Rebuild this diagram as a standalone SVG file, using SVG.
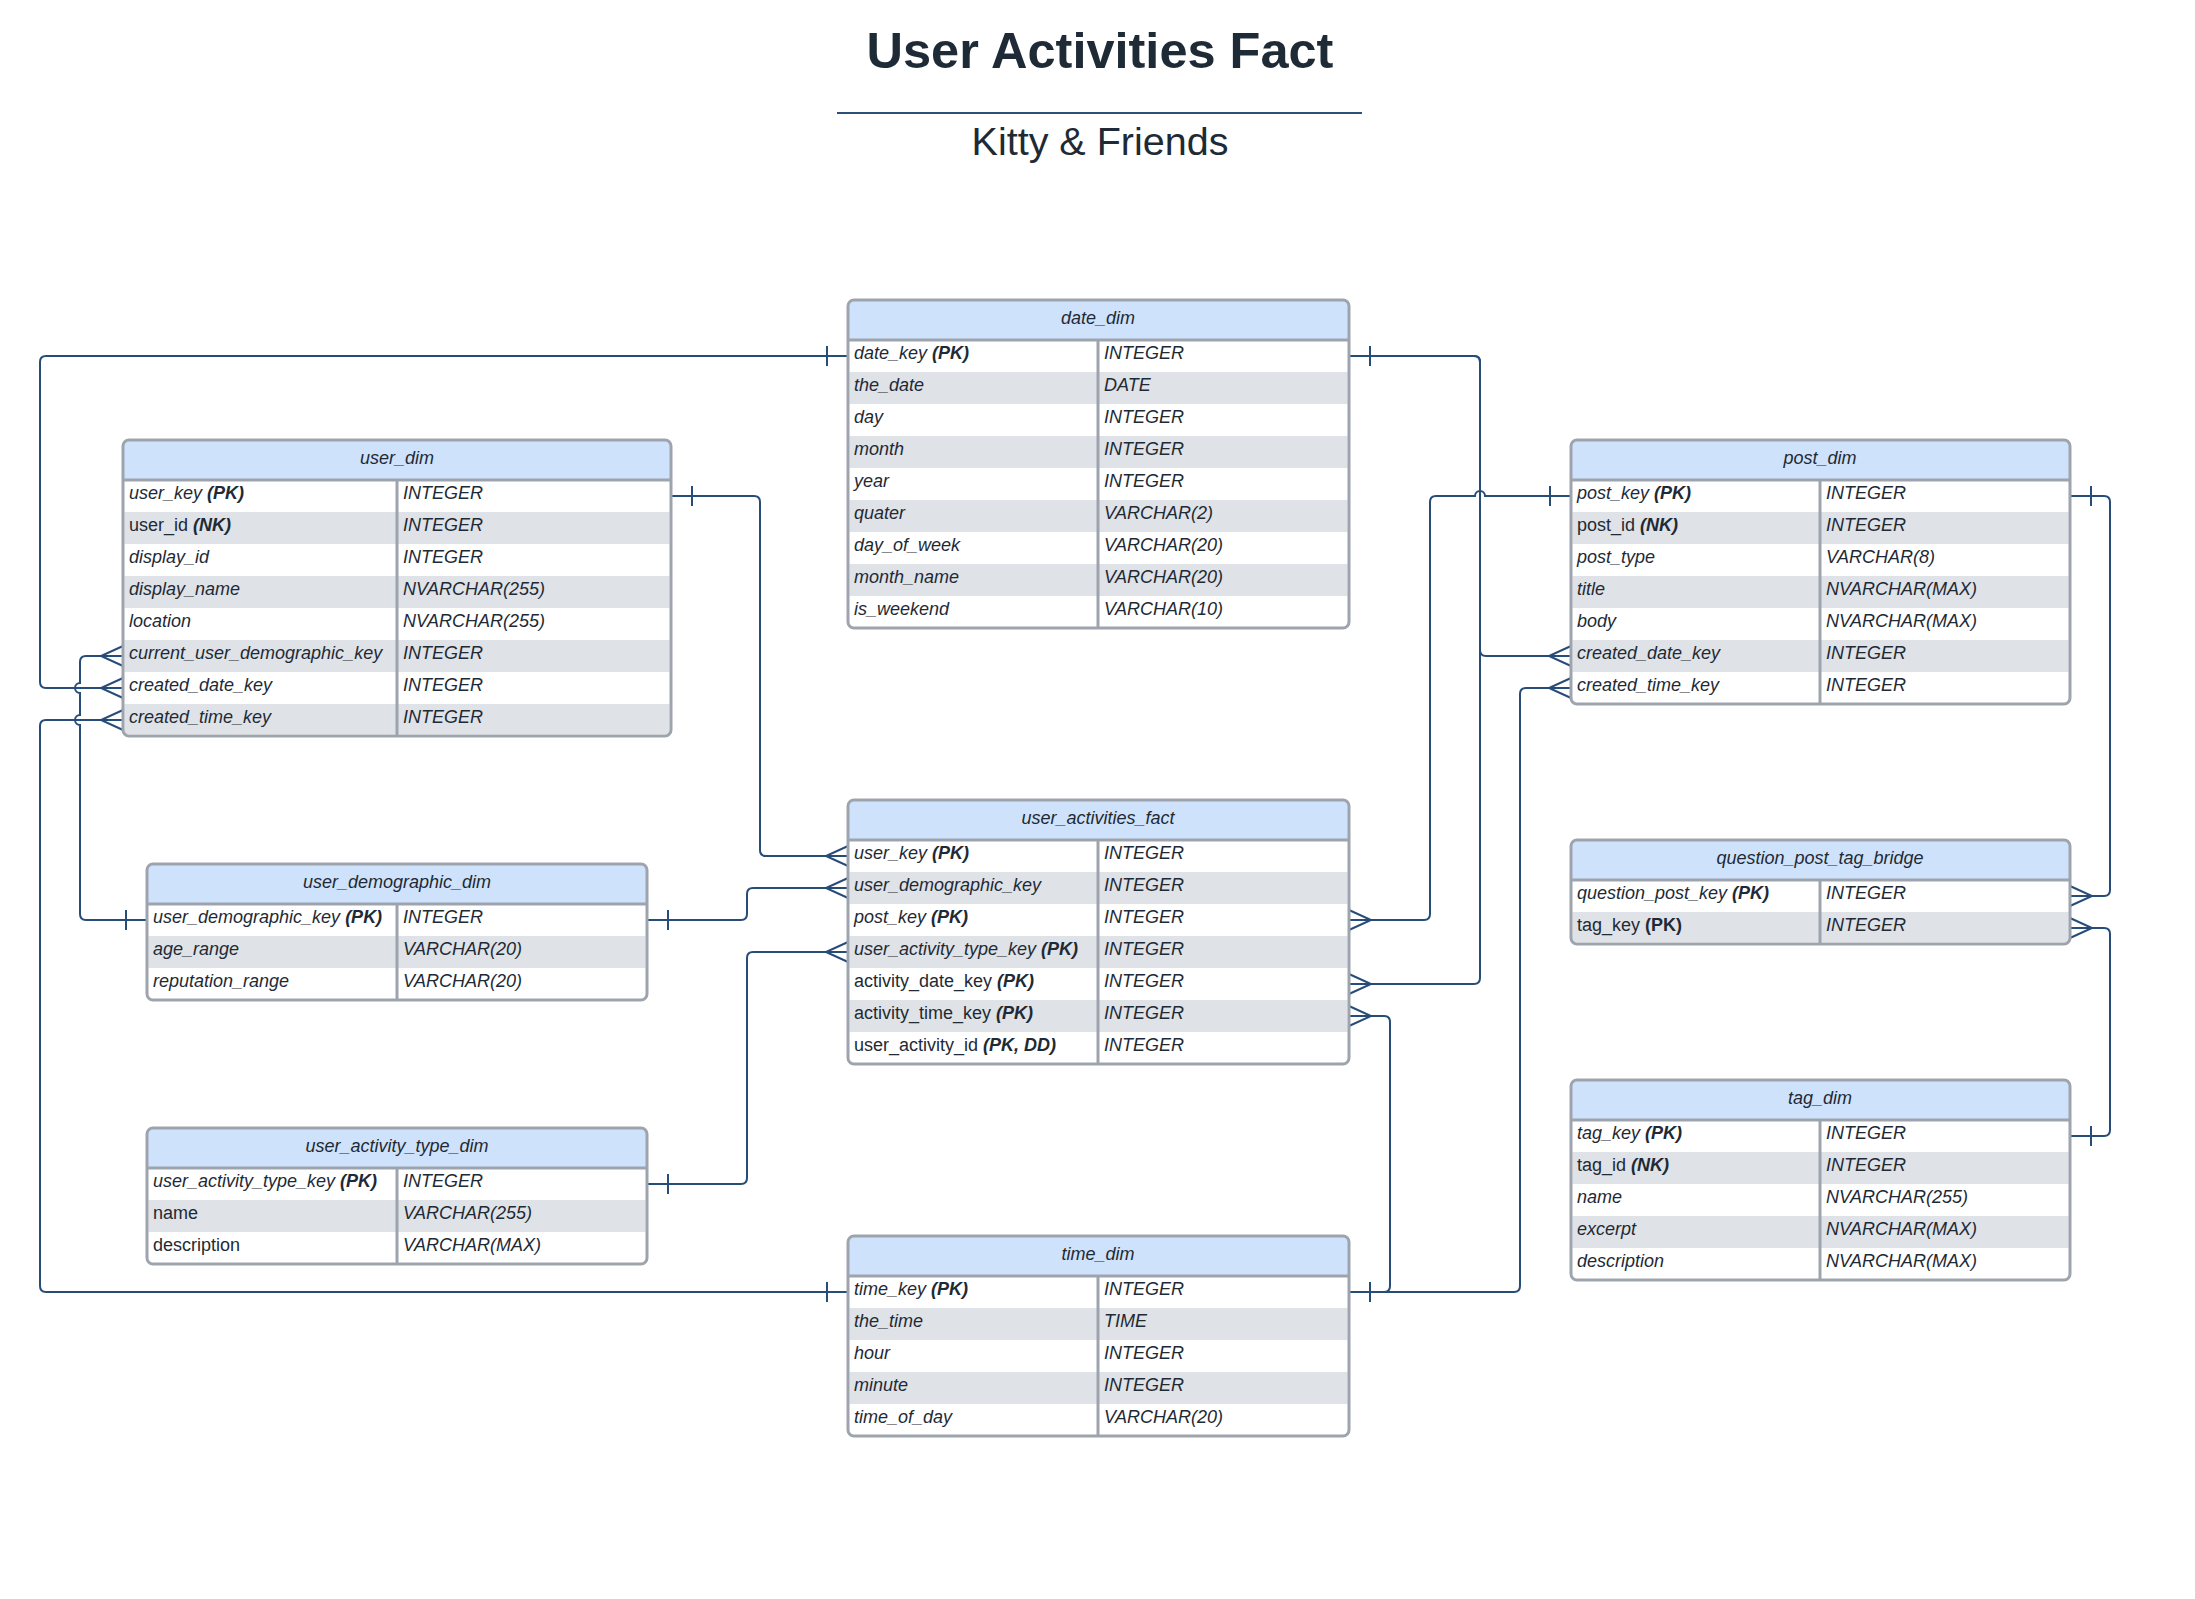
<svg xmlns="http://www.w3.org/2000/svg" width="2195" height="1599" viewBox="0 0 2195 1599">
<defs>
<style>
.hdr{fill:#cfe2fb}
.body{fill:#ffffff}
.alt{fill:#dfe2e7}
.brd{fill:none;stroke:#9ea4ad;stroke-width:3}
.ln{stroke:#9ea4ad;stroke-width:3}
text{font-family:"Liberation Sans",Arial,Helvetica,sans-serif;fill:#1e2a35}
.h{font-size:18px;font-style:italic;text-anchor:middle}
.f{font-size:18px;font-style:italic}
.u{font-style:normal}
.b{font-weight:bold;font-style:italic}
.conn{fill:none;stroke:#264c77;stroke-width:2}
.mk{fill:none;stroke:#264c77;stroke-width:2}
</style>
<marker id="many" markerUnits="userSpaceOnUse" orient="auto-start-reverse" viewBox="-25 -12 27 24" markerWidth="27" markerHeight="24" refX="0" refY="0">
<path class="mk" d="M0,-10 L-22,0 L0,10"/>
</marker>
<marker id="one" markerUnits="userSpaceOnUse" orient="auto-start-reverse" viewBox="-25 -12 27 24" markerWidth="27" markerHeight="24" refX="0" refY="0">
<path class="mk" d="M-21,-10 V10"/>
</marker>
</defs>
<rect x="0" y="0" width="2195" height="1599" fill="#ffffff"/>

<g id="title">
<text x="1100" y="68" text-anchor="middle" style="font-size:50.5px;font-weight:bold">User Activities Fact</text>
<line x1="837" y1="113" x2="1362" y2="113" stroke="#2b5178" stroke-width="2"/>
<text x="1100" y="155" text-anchor="middle" style="font-size:39.5px">Kitty &amp; Friends</text>
</g>

<g id="connectors">
<path id="c1" class="conn" marker-start="url(#one)" marker-end="url(#many)" d="M848 356 H46 Q40 356 40 362 V682 Q40 688 46 688 H123"/>
<path id="c2" class="conn" marker-start="url(#one)" marker-end="url(#many)" d="M848 1292 H46 Q40 1292 40 1286 V726 Q40 720 46 720 H123"/>
<path id="c3" class="conn" marker-start="url(#one)" marker-end="url(#many)" d="M147 920 H86 Q80 920 80 914 V725 A5 5 0 0 1 80 715 V693 A5 5 0 0 1 80 683 V662 Q80 656 86 656 H123"/>
<path id="c4" class="conn" marker-start="url(#one)" marker-end="url(#many)" d="M671 496 H754 Q760 496 760 502 V850 Q760 856 766 856 H848"/>
<path id="c5" class="conn" marker-start="url(#one)" marker-end="url(#many)" d="M647 920 H741 Q747 920 747 914 V894 Q747 888 753 888 H848"/>
<path id="c6" class="conn" marker-start="url(#one)" marker-end="url(#many)" d="M647 1184 H741 Q747 1184 747 1178 V958 Q747 952 753 952 H848"/>
<path id="c7" class="conn" marker-start="url(#many)" marker-end="url(#one)" d="M1349 920 H1424 Q1430 920 1430 914 V502 Q1430 496 1436 496 H1475 A5 5 0 0 1 1485 496 H1571"/>
<path id="c8a" class="conn" marker-start="url(#one)" marker-end="url(#many)" d="M1349 356 H1474 Q1480 356 1480 362 V650 Q1480 656 1486 656 H1571"/>
<path id="c8b" class="conn" marker-start="url(#one)" marker-end="url(#many)" d="M1349 356 H1474 Q1480 356 1480 362 V978 Q1480 984 1474 984 H1349"/>
<path id="c9" class="conn" marker-start="url(#one)" marker-end="url(#many)" d="M1349 1292 H1514 Q1520 1292 1520 1286 V694 Q1520 688 1526 688 H1571"/>
<path id="c10" class="conn" marker-start="url(#many)" marker-end="url(#one)" d="M1349 1016 H1384 Q1390 1016 1390 1022 V1286 Q1390 1292 1384 1292 H1349"/>
<path id="c11" class="conn" marker-start="url(#one)" marker-end="url(#many)" d="M2070 496 H2104 Q2110 496 2110 502 V890 Q2110 896 2104 896 H2070"/>
<path id="c12" class="conn" marker-start="url(#one)" marker-end="url(#many)" d="M2070 1136 H2104 Q2110 1136 2110 1130 V934 Q2110 928 2104 928 H2070"/>
</g>

<g id="date_dim">
<rect class="body" x="848" y="300" width="501" height="328" rx="6"/>
<path class="hdr" d="M848 340 V306 Q848 300 854 300 H1343 Q1349 300 1349 306 V340 Z"/>
<rect class="alt" x="849.5" y="372" width="498" height="32"/>
<rect class="alt" x="849.5" y="436" width="498" height="32"/>
<rect class="alt" x="849.5" y="500" width="498" height="32"/>
<rect class="alt" x="849.5" y="564" width="498" height="32"/>
<line class="ln" x1="848" y1="340" x2="1349" y2="340"/>
<line class="ln" x1="1098" y1="340" x2="1098" y2="628"/>
<rect class="brd" x="848" y="300" width="501" height="328" rx="6"/>
<text class="h" x="1098" y="324">date_dim</text>
<text class="f" x="854" y="359">date_key <tspan class="b">(PK)</tspan></text>
<text class="f" x="854" y="391">the_date</text>
<text class="f" x="854" y="423">day</text>
<text class="f" x="854" y="455">month</text>
<text class="f" x="854" y="487">year</text>
<text class="f" x="854" y="519">quater</text>
<text class="f" x="854" y="551">day_of_week</text>
<text class="f" x="854" y="583">month_name</text>
<text class="f" x="854" y="615">is_weekend</text>
<text class="f" x="1104" y="359">INTEGER</text>
<text class="f" x="1104" y="391">DATE</text>
<text class="f" x="1104" y="423">INTEGER</text>
<text class="f" x="1104" y="455">INTEGER</text>
<text class="f" x="1104" y="487">INTEGER</text>
<text class="f" x="1104" y="519">VARCHAR(2)</text>
<text class="f" x="1104" y="551">VARCHAR(20)</text>
<text class="f" x="1104" y="583">VARCHAR(20)</text>
<text class="f" x="1104" y="615">VARCHAR(10)</text>
</g>

<g id="user_dim">
<rect class="body" x="123" y="440" width="548" height="296" rx="6"/>
<path class="hdr" d="M123 480 V446 Q123 440 129 440 H665 Q671 440 671 446 V480 Z"/>
<rect class="alt" x="124.5" y="512" width="545" height="32"/>
<rect class="alt" x="124.5" y="576" width="545" height="32"/>
<rect class="alt" x="124.5" y="640" width="545" height="32"/>
<rect class="alt" x="124.5" y="704" width="545" height="30"/>
<line class="ln" x1="123" y1="480" x2="671" y2="480"/>
<line class="ln" x1="397" y1="480" x2="397" y2="736"/>
<rect class="brd" x="123" y="440" width="548" height="296" rx="6"/>
<text class="h" x="397" y="464">user_dim</text>
<text class="f" x="129" y="499">user_key <tspan class="b">(PK)</tspan></text>
<text class="f" x="129" y="531"><tspan class="u">user_id</tspan> <tspan class="b">(NK)</tspan></text>
<text class="f" x="129" y="563">display_id</text>
<text class="f" x="129" y="595">display_name</text>
<text class="f" x="129" y="627">location</text>
<text class="f" x="129" y="659">current_user_demographic_key</text>
<text class="f" x="129" y="691">created_date_key</text>
<text class="f" x="129" y="723">created_time_key</text>
<text class="f" x="403" y="499">INTEGER</text>
<text class="f" x="403" y="531">INTEGER</text>
<text class="f" x="403" y="563">INTEGER</text>
<text class="f" x="403" y="595">NVARCHAR(255)</text>
<text class="f" x="403" y="627">NVARCHAR(255)</text>
<text class="f" x="403" y="659">INTEGER</text>
<text class="f" x="403" y="691">INTEGER</text>
<text class="f" x="403" y="723">INTEGER</text>
</g>

<g id="post_dim">
<rect class="body" x="1571" y="440" width="499" height="264" rx="6"/>
<path class="hdr" d="M1571 480 V446 Q1571 440 1577 440 H2064 Q2070 440 2070 446 V480 Z"/>
<rect class="alt" x="1572.5" y="512" width="496" height="32"/>
<rect class="alt" x="1572.5" y="576" width="496" height="32"/>
<rect class="alt" x="1572.5" y="640" width="496" height="32"/>
<line class="ln" x1="1571" y1="480" x2="2070" y2="480"/>
<line class="ln" x1="1820" y1="480" x2="1820" y2="704"/>
<rect class="brd" x="1571" y="440" width="499" height="264" rx="6"/>
<text class="h" x="1820" y="464">post_dim</text>
<text class="f" x="1577" y="499">post_key <tspan class="b">(PK)</tspan></text>
<text class="f" x="1577" y="531"><tspan class="u">post_id</tspan> <tspan class="b">(NK)</tspan></text>
<text class="f" x="1577" y="563">post_type</text>
<text class="f" x="1577" y="595">title</text>
<text class="f" x="1577" y="627">body</text>
<text class="f" x="1577" y="659">created_date_key</text>
<text class="f" x="1577" y="691">created_time_key</text>
<text class="f" x="1826" y="499">INTEGER</text>
<text class="f" x="1826" y="531">INTEGER</text>
<text class="f" x="1826" y="563">VARCHAR(8)</text>
<text class="f" x="1826" y="595">NVARCHAR(MAX)</text>
<text class="f" x="1826" y="627">NVARCHAR(MAX)</text>
<text class="f" x="1826" y="659">INTEGER</text>
<text class="f" x="1826" y="691">INTEGER</text>
</g>

<g id="user_activities_fact">
<rect class="body" x="848" y="800" width="501" height="264" rx="6"/>
<path class="hdr" d="M848 840 V806 Q848 800 854 800 H1343 Q1349 800 1349 806 V840 Z"/>
<rect class="alt" x="849.5" y="872" width="498" height="32"/>
<rect class="alt" x="849.5" y="936" width="498" height="32"/>
<rect class="alt" x="849.5" y="1000" width="498" height="32"/>
<line class="ln" x1="848" y1="840" x2="1349" y2="840"/>
<line class="ln" x1="1098" y1="840" x2="1098" y2="1064"/>
<rect class="brd" x="848" y="800" width="501" height="264" rx="6"/>
<text class="h" x="1098" y="824">user_activities_fact</text>
<text class="f" x="854" y="859">user_key <tspan class="b">(PK)</tspan></text>
<text class="f" x="854" y="891">user_demographic_key</text>
<text class="f" x="854" y="923">post_key <tspan class="b">(PK)</tspan></text>
<text class="f" x="854" y="955">user_activity_type_key <tspan class="b">(PK)</tspan></text>
<text class="f" x="854" y="987"><tspan class="u">activity_date_key</tspan> <tspan class="b">(PK)</tspan></text>
<text class="f" x="854" y="1019"><tspan class="u">activity_time_key</tspan> <tspan class="b">(PK)</tspan></text>
<text class="f" x="854" y="1051"><tspan class="u">user_activity_id</tspan> <tspan class="b">(PK, DD)</tspan></text>
<text class="f" x="1104" y="859">INTEGER</text>
<text class="f" x="1104" y="891">INTEGER</text>
<text class="f" x="1104" y="923">INTEGER</text>
<text class="f" x="1104" y="955">INTEGER</text>
<text class="f" x="1104" y="987">INTEGER</text>
<text class="f" x="1104" y="1019">INTEGER</text>
<text class="f" x="1104" y="1051">INTEGER</text>
</g>

<g id="user_demographic_dim">
<rect class="body" x="147" y="864" width="500" height="136" rx="6"/>
<path class="hdr" d="M147 904 V870 Q147 864 153 864 H641 Q647 864 647 870 V904 Z"/>
<rect class="alt" x="148.5" y="936" width="497" height="32"/>
<line class="ln" x1="147" y1="904" x2="647" y2="904"/>
<line class="ln" x1="397" y1="904" x2="397" y2="1000"/>
<rect class="brd" x="147" y="864" width="500" height="136" rx="6"/>
<text class="h" x="397" y="888">user_demographic_dim</text>
<text class="f" x="153" y="923">user_demographic_key <tspan class="b">(PK)</tspan></text>
<text class="f" x="153" y="955">age_range</text>
<text class="f" x="153" y="987">reputation_range</text>
<text class="f" x="403" y="923">INTEGER</text>
<text class="f" x="403" y="955">VARCHAR(20)</text>
<text class="f" x="403" y="987">VARCHAR(20)</text>
</g>

<g id="user_activity_type_dim">
<rect class="body" x="147" y="1128" width="500" height="136" rx="6"/>
<path class="hdr" d="M147 1168 V1134 Q147 1128 153 1128 H641 Q647 1128 647 1134 V1168 Z"/>
<rect class="alt" x="148.5" y="1200" width="497" height="32"/>
<line class="ln" x1="147" y1="1168" x2="647" y2="1168"/>
<line class="ln" x1="397" y1="1168" x2="397" y2="1264"/>
<rect class="brd" x="147" y="1128" width="500" height="136" rx="6"/>
<text class="h" x="397" y="1152">user_activity_type_dim</text>
<text class="f" x="153" y="1187">user_activity_type_key <tspan class="b">(PK)</tspan></text>
<text class="f u" x="153" y="1219">name</text>
<text class="f u" x="153" y="1251">description</text>
<text class="f" x="403" y="1187">INTEGER</text>
<text class="f" x="403" y="1219">VARCHAR(255)</text>
<text class="f" x="403" y="1251">VARCHAR(MAX)</text>
</g>

<g id="question_post_tag_bridge">
<rect class="body" x="1571" y="840" width="499" height="104" rx="6"/>
<path class="hdr" d="M1571 880 V846 Q1571 840 1577 840 H2064 Q2070 840 2070 846 V880 Z"/>
<rect class="alt" x="1572.5" y="912" width="496" height="30"/>
<line class="ln" x1="1571" y1="880" x2="2070" y2="880"/>
<line class="ln" x1="1820" y1="880" x2="1820" y2="944"/>
<rect class="brd" x="1571" y="840" width="499" height="104" rx="6"/>
<text class="h" x="1820" y="864">question_post_tag_bridge</text>
<text class="f" x="1577" y="899">question_post_key <tspan class="b">(PK)</tspan></text>
<text class="f" x="1577" y="931"><tspan class="u">tag_key</tspan> <tspan class="b" style="font-style:normal">(PK)</tspan></text>
<text class="f" x="1826" y="899">INTEGER</text>
<text class="f" x="1826" y="931">INTEGER</text>
</g>

<g id="tag_dim">
<rect class="body" x="1571" y="1080" width="499" height="200" rx="6"/>
<path class="hdr" d="M1571 1120 V1086 Q1571 1080 1577 1080 H2064 Q2070 1080 2070 1086 V1120 Z"/>
<rect class="alt" x="1572.5" y="1152" width="496" height="32"/>
<rect class="alt" x="1572.5" y="1216" width="496" height="32"/>
<line class="ln" x1="1571" y1="1120" x2="2070" y2="1120"/>
<line class="ln" x1="1820" y1="1120" x2="1820" y2="1280"/>
<rect class="brd" x="1571" y="1080" width="499" height="200" rx="6"/>
<text class="h" x="1820" y="1104">tag_dim</text>
<text class="f" x="1577" y="1139">tag_key <tspan class="b">(PK)</tspan></text>
<text class="f" x="1577" y="1171"><tspan class="u">tag_id</tspan> <tspan class="b">(NK)</tspan></text>
<text class="f" x="1577" y="1203">name</text>
<text class="f" x="1577" y="1235">excerpt</text>
<text class="f" x="1577" y="1267">description</text>
<text class="f" x="1826" y="1139">INTEGER</text>
<text class="f" x="1826" y="1171">INTEGER</text>
<text class="f" x="1826" y="1203">NVARCHAR(255)</text>
<text class="f" x="1826" y="1235">NVARCHAR(MAX)</text>
<text class="f" x="1826" y="1267">NVARCHAR(MAX)</text>
</g>

<g id="time_dim">
<rect class="body" x="848" y="1236" width="501" height="200" rx="6"/>
<path class="hdr" d="M848 1276 V1242 Q848 1236 854 1236 H1343 Q1349 1236 1349 1242 V1276 Z"/>
<rect class="alt" x="849.5" y="1308" width="498" height="32"/>
<rect class="alt" x="849.5" y="1372" width="498" height="32"/>
<line class="ln" x1="848" y1="1276" x2="1349" y2="1276"/>
<line class="ln" x1="1098" y1="1276" x2="1098" y2="1436"/>
<rect class="brd" x="848" y="1236" width="501" height="200" rx="6"/>
<text class="h" x="1098" y="1260">time_dim</text>
<text class="f" x="854" y="1295">time_key <tspan class="b">(PK)</tspan></text>
<text class="f" x="854" y="1327">the_time</text>
<text class="f" x="854" y="1359">hour</text>
<text class="f" x="854" y="1391">minute</text>
<text class="f" x="854" y="1423">time_of_day</text>
<text class="f" x="1104" y="1295">INTEGER</text>
<text class="f" x="1104" y="1327">TIME</text>
<text class="f" x="1104" y="1359">INTEGER</text>
<text class="f" x="1104" y="1391">INTEGER</text>
<text class="f" x="1104" y="1423">VARCHAR(20)</text>
</g>
</svg>
